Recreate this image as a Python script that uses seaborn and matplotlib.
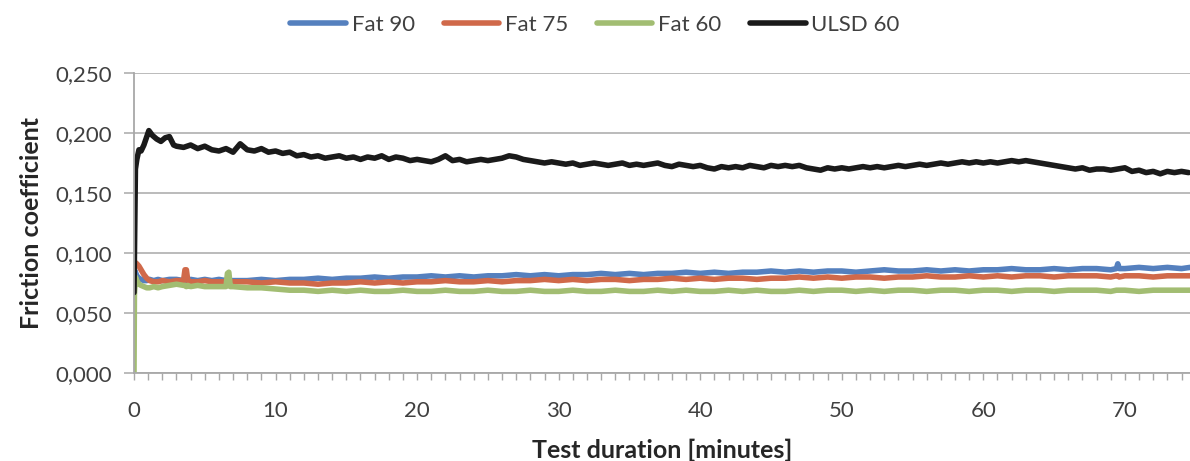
import numpy as np
import pandas as pd
import matplotlib
matplotlib.use("Agg")
import matplotlib.pyplot as plt
import seaborn as sns
from matplotlib.ticker import MultipleLocator, FuncFormatter

# ---- data ----
series_names = ["Fat 90", "Fat 75", "Fat 60", "ULSD 60"]
series_colors = ["#5580be", "#d0694a", "#a2bd72", "#1a1a1a"]

# time stamps (minutes) for the black ULSD 60 curve
t_ulsd = [0, 0.05, 0.1, 0.2, 0.35, 0.5, 0.7, 0.9, 1.05, 1.3, 1.6, 1.9, 2.2, 2.5, 2.8] + \
    [3 + 0.5 * i for i in range(144)]
ulsd_60 = [
    0.067, 0.120, 0.170, 0.178, 0.186, 0.185, 0.190, 0.197, 0.202, 0.198, 0.195, 0.193, 0.196, 0.197, 0.190,
    # 3 - 7.5
    0.189, 0.188, 0.190, 0.187, 0.189, 0.186, 0.185, 0.187, 0.184, 0.191,
    # 8 - 12.5
    0.186, 0.185, 0.187, 0.184, 0.185, 0.183, 0.184, 0.181, 0.182, 0.180,
    # 13 - 17.5
    0.181, 0.179, 0.180, 0.181, 0.179, 0.180, 0.178, 0.180, 0.179, 0.181,
    # 18 - 22.5
    0.178, 0.180, 0.179, 0.177, 0.178, 0.177, 0.176, 0.178, 0.181, 0.177,
    # 23 - 27.5
    0.178, 0.176, 0.177, 0.178, 0.177, 0.178, 0.179, 0.181, 0.180, 0.178,
    # 28 - 32.5
    0.177, 0.176, 0.175, 0.176, 0.175, 0.174, 0.175, 0.173, 0.174, 0.175,
    # 33 - 37.5
    0.174, 0.173, 0.174, 0.175, 0.173, 0.174, 0.173, 0.174, 0.175, 0.173,
    # 38 - 42.5
    0.172, 0.174, 0.173, 0.172, 0.173, 0.171, 0.170, 0.172, 0.171, 0.172,
    # 43 - 47.5
    0.171, 0.173, 0.172, 0.171, 0.173, 0.172, 0.173, 0.172, 0.173, 0.171,
    # 48 - 52.5
    0.170, 0.169, 0.171, 0.170, 0.171, 0.170, 0.171, 0.172, 0.171, 0.172,
    # 53 - 57.5
    0.171, 0.172, 0.173, 0.172, 0.173, 0.174, 0.173, 0.174, 0.175, 0.174,
    # 58 - 62.5
    0.175, 0.176, 0.175, 0.176, 0.175, 0.176, 0.175, 0.176, 0.177, 0.176,
    # 63 - 67.5
    0.177, 0.176, 0.175, 0.174, 0.173, 0.172, 0.171, 0.170, 0.171, 0.169,
    # 68 - 72.5
    0.170, 0.170, 0.169, 0.170, 0.171, 0.168, 0.169, 0.167, 0.168, 0.166,
    # 73 - 74.5
    0.168, 0.167, 0.168, 0.167,
]

# time stamps (minutes) shared by the three Fat curves
t_fat = [0, 0.03, 0.1, 0.2, 0.35, 0.5, 0.7, 0.9, 1.1, 1.4, 1.7, 2.0, 2.5, 3.0,
         3.5, 3.6, 3.7, 3.8, 4.0, 4.5, 5.0, 5.5, 6.0, 6.5, 6.6, 6.7, 6.8, 7.0] + \
    list(range(8, 70)) + [69.4, 69.5, 69.6] + [70, 71, 72, 73, 74, 74.6]

fat_90 = [
    0.080, 0.086, 0.084, 0.081, 0.079, 0.078, 0.077, 0.077, 0.078, 0.077, 0.078, 0.077, 0.078, 0.078,
    0.077, 0.078, 0.078, 0.077, 0.078, 0.077, 0.078, 0.077, 0.078, 0.077, 0.077, 0.078, 0.077, 0.077,
    0.077, 0.078, 0.077, 0.078, 0.078, 0.079, 0.078, 0.079, 0.079, 0.080,
    0.079, 0.080, 0.080, 0.081, 0.080, 0.081, 0.080, 0.081, 0.081, 0.082,
    0.081, 0.082, 0.081, 0.082, 0.082, 0.083, 0.082, 0.083, 0.082, 0.083,
    0.083, 0.084, 0.083, 0.084, 0.083, 0.084, 0.084, 0.085, 0.084, 0.085,
    0.084, 0.085, 0.085, 0.084, 0.085, 0.086, 0.085, 0.085, 0.086, 0.085,
    0.086, 0.085, 0.086, 0.086, 0.087, 0.086, 0.086, 0.087, 0.086, 0.087,
    0.087, 0.086,
    0.087, 0.091, 0.087,
    0.087, 0.088, 0.087, 0.088, 0.087, 0.088,
]

fat_75 = [
    0.085, 0.091, 0.092, 0.091, 0.089, 0.086, 0.082, 0.079, 0.077, 0.076, 0.076, 0.077, 0.076, 0.077,
    0.077, 0.086, 0.086, 0.077, 0.076, 0.076, 0.077, 0.076, 0.076, 0.076, 0.076, 0.076, 0.076, 0.076,
    0.076, 0.075, 0.076, 0.075, 0.075, 0.074, 0.075, 0.075, 0.076, 0.075,
    0.076, 0.075, 0.076, 0.076, 0.077, 0.076, 0.076, 0.077, 0.076, 0.077,
    0.077, 0.078, 0.077, 0.078, 0.077, 0.078, 0.078, 0.077, 0.078, 0.078,
    0.079, 0.078, 0.079, 0.078, 0.079, 0.079, 0.078, 0.079, 0.079, 0.080,
    0.079, 0.080, 0.079, 0.080, 0.080, 0.079, 0.080, 0.080, 0.081, 0.080,
    0.080, 0.081, 0.080, 0.081, 0.080, 0.081, 0.081, 0.080, 0.081, 0.081,
    0.081, 0.080,
    0.081, 0.081, 0.080,
    0.081, 0.081, 0.080, 0.081, 0.081, 0.081,
]

fat_60 = [
    0.000, 0.065, 0.080, 0.077, 0.074, 0.073, 0.072, 0.071, 0.071, 0.072, 0.071, 0.072, 0.073, 0.074,
    0.073, 0.073, 0.072, 0.073, 0.072, 0.073, 0.072, 0.072, 0.072, 0.072, 0.083, 0.084, 0.072, 0.072,
    0.071, 0.071, 0.070, 0.069, 0.069, 0.068, 0.069, 0.068, 0.069, 0.068,
    0.068, 0.069, 0.068, 0.068, 0.069, 0.068, 0.068, 0.069, 0.068, 0.068,
    0.069, 0.068, 0.068, 0.069, 0.068, 0.068, 0.069, 0.068, 0.068, 0.069,
    0.068, 0.069, 0.068, 0.068, 0.069, 0.068, 0.069, 0.068, 0.068, 0.069,
    0.068, 0.069, 0.069, 0.068, 0.069, 0.068, 0.069, 0.069, 0.068, 0.069,
    0.069, 0.068, 0.069, 0.069, 0.068, 0.069, 0.069, 0.068, 0.069, 0.069,
    0.069, 0.068,
    0.069, 0.069, 0.069,
    0.069, 0.068, 0.069, 0.069, 0.069, 0.069,
]

y_ticks = [0.0, 0.05, 0.10, 0.15, 0.20, 0.25]
x_major = [0, 10, 20, 30, 40, 50, 60, 70]

# ---- long table for seaborn ----
frames = []
for name, t, v in zip(series_names, [t_fat, t_fat, t_fat, t_ulsd], [fat_90, fat_75, fat_60, ulsd_60]):
    frames.append(pd.DataFrame({"minutes": t, "friction": v, "series": name}))
df = pd.concat(frames, ignore_index=True)

sns.set_theme(style="white")
plt.rcParams["font.family"] = ["Lato", "DejaVu Sans"]

fig = plt.figure(figsize=(11.9, 4.61), dpi=100)
ax = fig.add_axes([134 / 1190, 88 / 461, 1 - 134 / 1190, 300 / 461])

sns.lineplot(data=df, x="minutes", y="friction", hue="series", hue_order=series_names,
             palette=series_colors, estimator=None, sort=False, linewidth=4.0, ax=ax)
for line in ax.lines:
    line.set_solid_joinstyle("round")

ax.set_xlim(0, 74.6)
ax.set_ylim(0, 0.25)
ax.set_yticks(y_ticks)
ax.yaxis.set_major_formatter(FuncFormatter(lambda v, _: f"{v:.3f}".replace(".", ",")))
ax.set_xticks(x_major)
ax.xaxis.set_minor_locator(MultipleLocator(1))

ax.grid(axis="y", color="#b5b5b5", linewidth=1.3)
ax.set_axisbelow(True)
for s in ["top", "right"]:
    ax.spines[s].set_visible(False)
for s in ["left", "bottom"]:
    ax.spines[s].set_color("#a8a8a8")
    ax.spines[s].set_linewidth(1.3)

ax.tick_params(axis="y", which="major", direction="out", length=7, width=1.3,
               color="#b5b5b5", labelsize=16, labelcolor="#404040", pad=9, left=True)
ax.tick_params(axis="x", which="both", direction="out", length=5, width=1.0,
               color="#a8a8a8", bottom=True)
ax.tick_params(axis="x", which="major", labelsize=16, labelcolor="#404040", pad=15)

ax.set_xlabel("Test duration [minutes]", fontsize=18, fontweight="bold", color="#262626", labelpad=13)
ax.set_ylabel("Friction coefficient", fontsize=18, fontweight="bold", color="#262626", labelpad=9)

handles, labels = ax.get_legend_handles_labels()
ax.legend_.remove()
for h in handles:
    h.set_linewidth(4)
fig.legend(handles, labels, loc="center", bbox_to_anchor=(595 / 1190, 1 - 25 / 461), ncol=4,
           frameon=False, fontsize=16, handlelength=2.5, handletextpad=0.25, columnspacing=1.3,
           labelcolor="#404040")

fig.savefig("out.png", dpi=100)
